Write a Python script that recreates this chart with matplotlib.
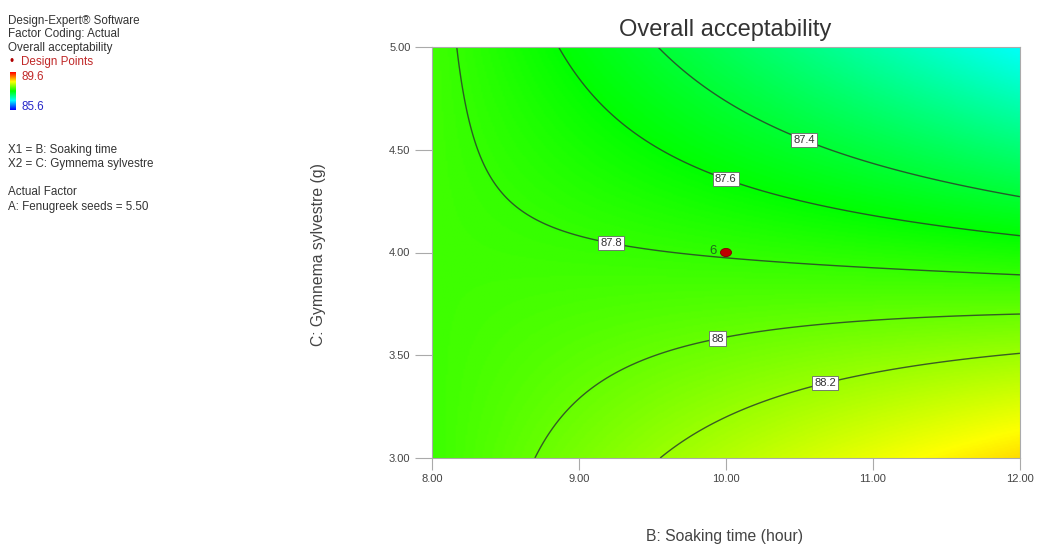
import matplotlib
matplotlib.use('Agg')
import matplotlib.pyplot as plt
import numpy as np
from matplotlib.colors import LinearSegmentedColormap, Normalize
from matplotlib.patches import Ellipse

plt.rcParams['font.family'] = ['Liberation Sans', 'DejaVu Sans']

W, H = 1037, 545

# points (soaking time, gymnema)
levels = [87.4, 87.6, 87.8, 88.0, 88.2]
level_names = ['87.4', '87.6', '87.8', '88', '88.2']
cont_x = [[9.52, 10.54, 12.0],
          [8.86, 10.0, 12.0],
          [8.18, 8.46, 9.22, 10.0, 12.0],
          [8.67, 9.94, 12.0],
          [9.61, 10.67, 12.0]]
cont_y = [[5.0, 4.56, 4.27],
          [5.0, 4.36, 4.08],
          [5.0, 4.27, 4.05, 3.95, 3.89],
          [3.0, 3.59, 3.70],
          [3.0, 3.38, 3.51]]
label_pos = [(10.54, 4.56), (10.0, 4.36), (9.22, 4.05), (9.94, 3.59), (10.67, 3.38)]

design_x = [10.0]
design_y = [4.0]
design_n = ['6']

resp_min, resp_max = 85.6, 89.6
cmap_colors = ['#0000ff', '#00ffff', '#00ff00', '#ffff00', '#ff0000']


def coded(x, y):
    u = (np.asarray(x) - 10.0) / 2.0
    v = np.asarray(y) - 4.0
    return np.column_stack([np.ones_like(u), u, v, u * v, u ** 2, v ** 2])


# quadratic response surface through the read contour points
px, py, pz = [], [], []
for lev, xs, ys in zip(levels, cont_x, cont_y):
    px += xs
    py += ys
    pz += [lev] * len(xs)
coef = np.linalg.lstsq(coded(px, py), np.array(pz), rcond=None)[0]

gx = np.linspace(8, 12, 300)
gy = np.linspace(3, 5, 300)
GX, GY = np.meshgrid(gx, gy)
GZ = (coded(GX.ravel(), GY.ravel()) @ coef).reshape(GX.shape)

cmap = LinearSegmentedColormap.from_list('de', cmap_colors)
norm = Normalize(resp_min, resp_max)

fig = plt.figure(figsize=(W / 100, H / 100), dpi=100)
ax = fig.add_axes([432 / W, 1 - 458 / H, (1020 - 432) / W, (458 - 47) / H])
ax.imshow(GZ, extent=[8, 12, 3, 5], origin='lower', aspect='auto', cmap=cmap, norm=norm,
          interpolation='bilinear')
cs = ax.contour(GX, GY, GZ, levels=levels, colors='#2a402a', linewidths=1.0, alpha=0.85)
fmt = dict(zip(cs.levels, level_names))
texts = ax.clabel(cs, fmt=fmt, fontsize=8, inline=False, manual=label_pos)
for t in texts:
    t.set_rotation(0)
    t.set_color('#333333')
    t.set_bbox(dict(boxstyle='square,pad=0.2', fc='white', ec='#666666', lw=0.6))

for x, y, n in zip(design_x, design_y, design_n):
    ax.add_patch(Ellipse((x, y), 0.075, 0.04, fc='#c00000', ec='#800000', lw=0.6, zorder=5))
    ax.text(x - 0.06, y + 0.005, n, color='#1e6b1e', fontsize=9.5, ha='right', va='center')

ax.set_xlim(8, 12)
ax.set_ylim(3, 5)
ax.set_xticks([8, 9, 10, 11, 12])
ax.set_yticks([3, 3.5, 4, 4.5, 5])
ax.set_xticklabels(['8.00', '9.00', '10.00', '11.00', '12.00'])
ax.set_yticklabels(['3.00', '3.50', '4.00', '4.50', '5.00'])
ax.tick_params(direction='out', length=8.6, width=0.8, color='#aaaaaa', labelsize=8,
               labelcolor='#444444', pad=3)
ax.tick_params(axis='y', length=12, pad=3.5)
for s in ax.spines.values():
    s.set_color('#aaaaaa')
    s.set_linewidth(0.8)

fig.text(725 / W, 1 - 30 / H, 'Overall acceptability', fontsize=17, color='#333333',
         ha='center', va='center')
fig.text(725 / W, 1 - 537 / H, 'B: Soaking time (hour)', fontsize=11.3, color='#444444',
         ha='center', va='center')
fig.text(318 / W, 1 - 255 / H, 'C: Gymnema sylvestre (g)', fontsize=11.3, color='#444444',
         ha='center', va='center', rotation=90)

# left info panel
info = [(21, 'Design-Expert® Software'),
        (34, 'Factor Coding: Actual'),
        (48, 'Overall acceptability'),
        (150, 'X1 = B: Soaking time'),
        (164, 'X2 = C: Gymnema sylvestre'),
        (192, 'Actual Factor'),
        (207, 'A: Fenugreek seeds = 5.50')]
for y, s in info:
    fig.text(8 / W, 1 - y / H, s, fontsize=8.4, color='#333333', ha='left', va='center')
fig.text(12 / W, 1 - 62 / H, '•', fontsize=8.4, color='#b00000', ha='center', va='center')
fig.text(21 / W, 1 - 62 / H, 'Design Points', fontsize=8.4, color='#c02828', ha='left', va='center')
fig.text(22 / W, 1 - 77 / H, '%.1f' % resp_max, fontsize=8.4, color='#c02828', ha='left', va='center')
fig.text(22 / W, 1 - 107 / H, '%.1f' % resp_min, fontsize=8.4, color='#2828c8', ha='left', va='center')
cax = fig.add_axes([10 / W, 1 - 110 / H, 6 / W, 38 / H])
cax.imshow(np.linspace(resp_max, resp_min, 100)[:, None], aspect='auto', cmap=cmap, norm=norm)
cax.axis('off')

fig.savefig('out.png', dpi=100)
